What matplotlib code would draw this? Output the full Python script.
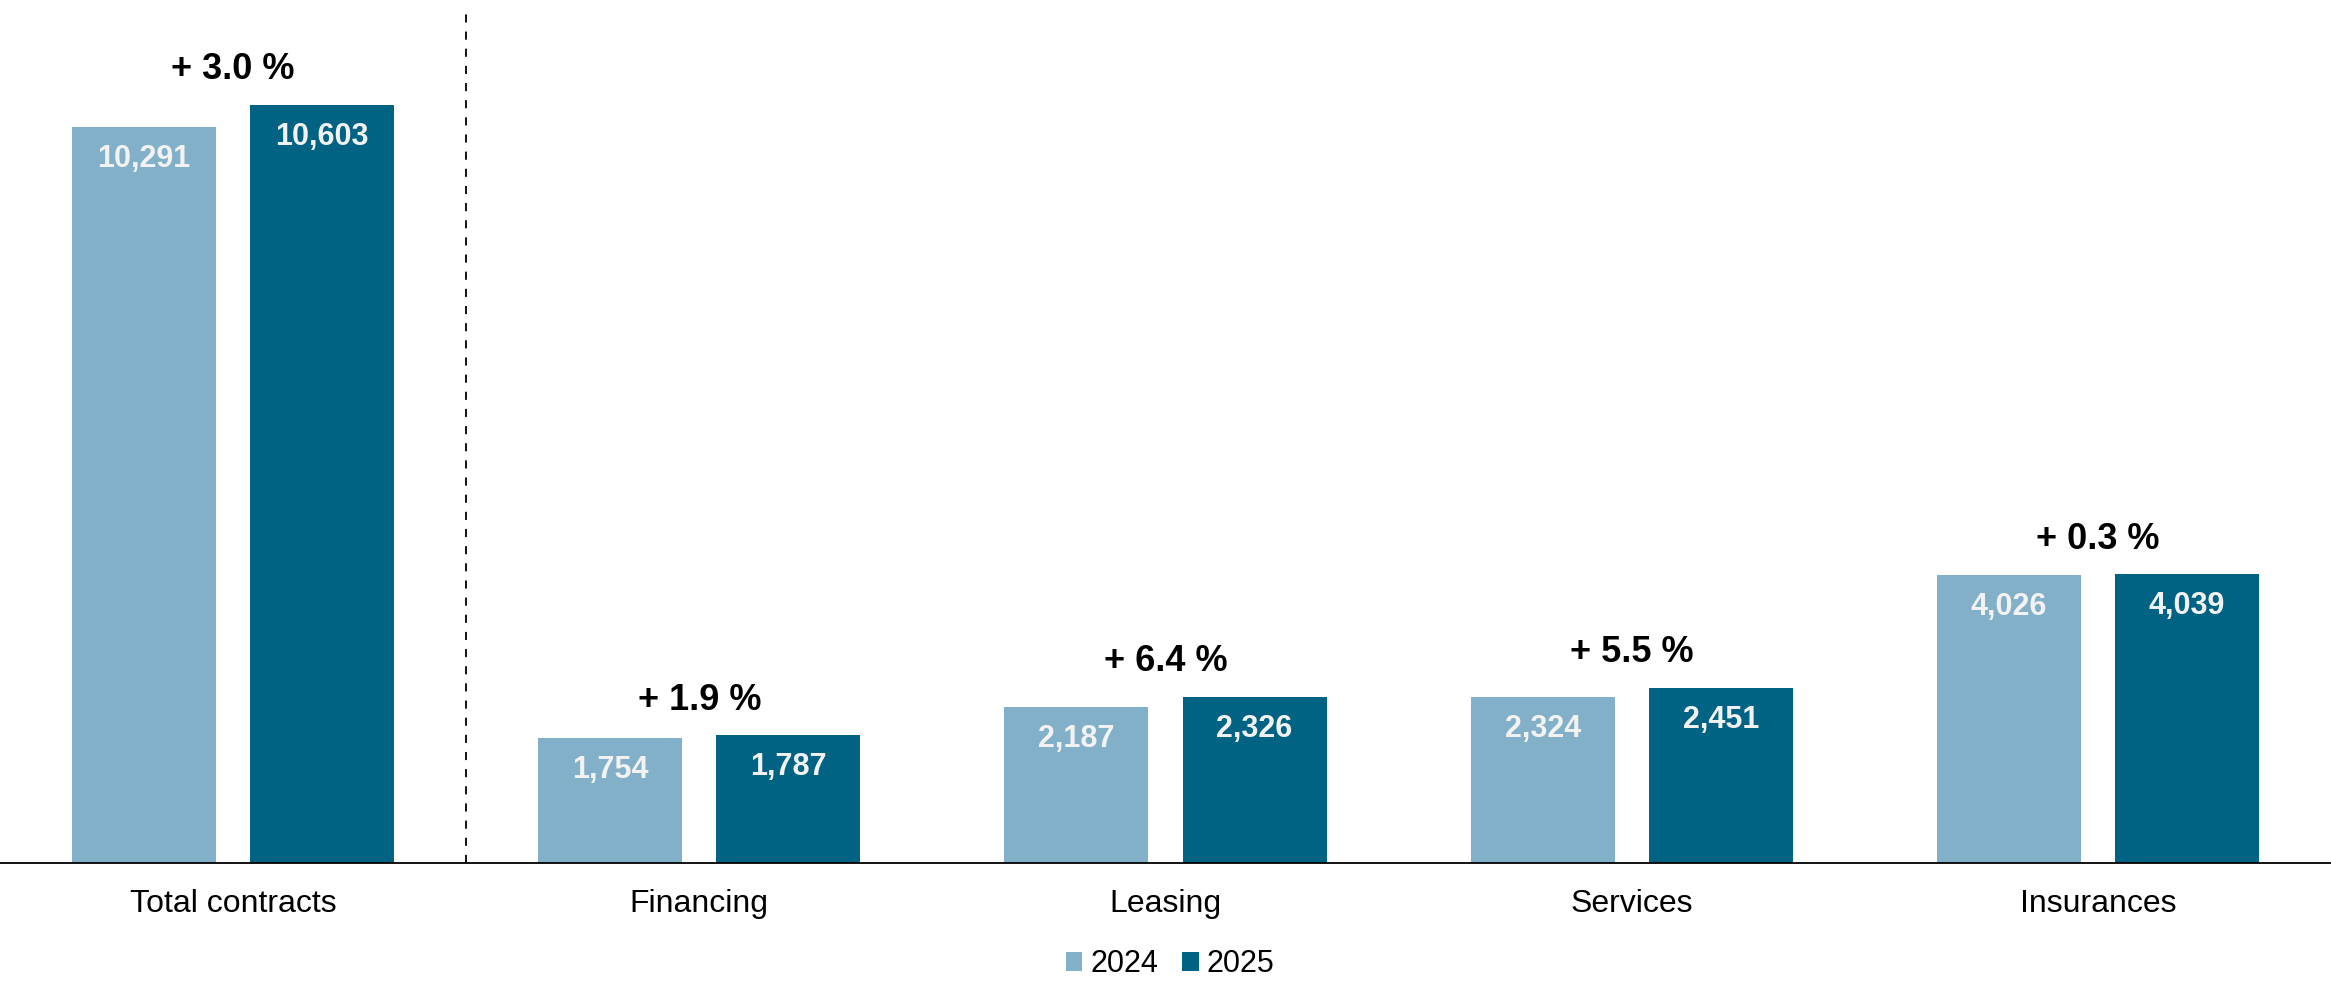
import matplotlib
matplotlib.use('Agg')
import matplotlib.pyplot as plt
from matplotlib.patches import Patch
import numpy as np

plt.rcParams['font.family'] = ['Liberation Sans', 'DejaVu Sans']

categories = ['Total contracts', 'Financing', 'Leasing', 'Services', 'Insurances']
values_2024 = [10291, 1754, 2187, 2324, 4026]
values_2025 = [10603, 1787, 2326, 2451, 4039]
growth_labels = ['+ 3.0 %', '+ 1.9 %', '+ 6.4 %', '+ 5.5 %', '+ 0.3 %']
years = ['2024', '2025']

light = '#82B0C8'
dark = '#006384'

fig = plt.figure(figsize=(23.31, 9.81), dpi=100)
ax = fig.add_axes([0, 118 / 981, 1, 863 / 981])

x = np.arange(len(categories))
width = 0.309
offset = 0.191

bars_a = ax.bar(x - offset, values_2024, width, color=light)
bars_b = ax.bar(x + offset, values_2025, width, color=dark)

# value labels just inside the top of every bar
for bars in (bars_a, bars_b):
    for b in bars:
        ax.annotate(f'{int(b.get_height()):,}',
                    xy=(b.get_x() + b.get_width() / 2, b.get_height()),
                    xytext=(0, -23), textcoords='offset points',
                    ha='center', va='center', fontsize=22,
                    fontweight='bold', color='#F2F2F2')

# growth above each pair
for i, lab in enumerate(growth_labels):
    top = max(values_2024[i], values_2025[i])
    ax.annotate(lab, xy=(x[i], top), xytext=(0, 25),
                textcoords='offset points', ha='center', va='center',
                fontsize=26, fontweight='bold', color='black')

ax.axvline(0.5, ymin=0, ymax=0.992, color='black', lw=1.3,
           linestyle=(0, (4.5, 5)))

ax.set_xlim(-0.5, 4.5)
ax.set_ylim(0, 12067)
ax.set_xticks(x)
ax.set_xticklabels(categories, fontsize=23)
ax.tick_params(axis='x', length=0, pad=19)
ax.set_yticks([])
for side in ('top', 'right', 'left'):
    ax.spines[side].set_visible(False)
ax.spines['bottom'].set_linewidth(1.3)
ax.patch.set_alpha(0)

handles = [Patch(facecolor=light, label=years[0]),
           Patch(facecolor=dark, label=years[1])]
fig.legend(handles=handles, loc='center', bbox_to_anchor=(0.502, 0.017),
           ncol=2, frameon=False, fontsize=22, handlelength=0.55,
           handleheight=0.55, handletextpad=0.25, columnspacing=0.8,
           borderpad=0)

fig.savefig('out.png', dpi=100)
